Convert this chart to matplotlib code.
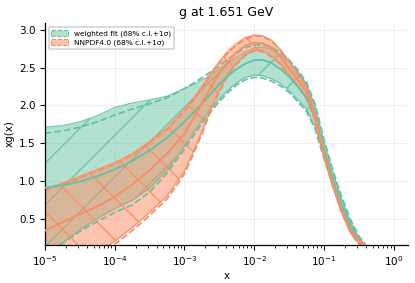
import matplotlib
matplotlib.use("Agg")
import matplotlib.pyplot as plt
import matplotlib.patches as mpatches
import matplotlib.colors as mcolors
import numpy as np

# log10(x) grid the curves were read on
logx = [-5, -4.75, -4.5, -4.25, -4, -3.75, -3.5, -3.25, -3, -2.875, -2.75, -2.625,
        -2.5, -2.375, -2.25, -2.125, -2, -1.875, -1.75, -1.625, -1.5, -1.375,
        -1.25, -1.125, -1, -0.875, -0.75, -0.625, -0.5, -0.375, -0.25, 0]

# weighted fit
wf_cv = [0.91, 0.94, 0.99, 1.06, 1.15, 1.26, 1.40, 1.57, 1.78, 1.90, 2.02, 2.15,
         2.28, 2.39, 2.48, 2.55, 2.60, 2.60, 2.56, 2.48, 2.38, 2.25,
         2.10, 1.85, 1.42, 1.04, 0.70, 0.42, 0.22, 0.08, 0.0, 0.0]
wf_up = [1.71, 1.73, 1.78, 1.86, 1.97, 2.03, 2.07, 2.12, 2.22, 2.27, 2.33, 2.40,
         2.48, 2.56, 2.64, 2.71, 2.76, 2.77, 2.74, 2.67, 2.58, 2.45,
         2.28, 1.98, 1.52, 1.12, 0.77, 0.47, 0.25, 0.10, 0.01, 0.0]
wf_dn = [0.05, 0.18, 0.35, 0.50, 0.63, 0.74, 0.90, 1.14, 1.46, 1.63, 1.80, 1.95,
         2.08, 2.20, 2.30, 2.37, 2.40, 2.39, 2.35, 2.29, 2.20, 2.08,
         1.95, 1.72, 1.33, 0.96, 0.63, 0.36, 0.18, 0.05, -0.01, 0.0]
wf_sup = [1.63, 1.66, 1.71, 1.78, 1.87, 1.95, 2.02, 2.10, 2.22, 2.29, 2.36, 2.44,
          2.52, 2.61, 2.69, 2.76, 2.80, 2.80, 2.77, 2.70, 2.60, 2.47,
          2.30, 2.01, 1.55, 1.15, 0.80, 0.50, 0.27, 0.12, 0.02, 0.0]
wf_sdn = [0.00, 0.17, 0.33, 0.46, 0.58, 0.68, 0.85, 1.10, 1.42, 1.59, 1.76, 1.91,
          2.05, 2.17, 2.27, 2.34, 2.37, 2.36, 2.32, 2.26, 2.17, 2.05,
          1.92, 1.68, 1.30, 0.93, 0.60, 0.33, 0.15, 0.03, -0.02, 0.0]

# NNPDF4.0
nn_cv = [0.34, 0.45, 0.56, 0.66, 0.79, 0.95, 1.14, 1.36, 1.62, 1.82, 2.02, 2.23,
         2.42, 2.58, 2.70, 2.79, 2.83, 2.82, 2.76, 2.65, 2.49, 2.34,
         2.18, 1.85, 1.38, 0.99, 0.63, 0.36, 0.21, 0.12, 0.05, 0.0]
nn_up = [0.89, 0.97, 1.06, 1.15, 1.24, 1.36, 1.52, 1.70, 1.94, 2.08, 2.25, 2.42,
         2.58, 2.72, 2.82, 2.90, 2.93, 2.92, 2.86, 2.74, 2.58, 2.42,
         2.25, 1.90, 1.42, 1.03, 0.66, 0.39, 0.23, 0.14, 0.06, 0.0]
nn_dn = [-0.60, -0.40, -0.20, 0.05, 0.20, 0.38, 0.58, 0.80, 1.13, 1.38, 1.65, 1.95,
         2.20, 2.42, 2.56, 2.67, 2.73, 2.72, 2.65, 2.55, 2.40, 2.26,
         2.10, 1.80, 1.34, 0.95, 0.60, 0.33, 0.19, 0.10, 0.04, 0.0]
nn_sup = [0.87, 0.95, 1.04, 1.13, 1.22, 1.34, 1.50, 1.68, 1.92, 2.06, 2.22, 2.40,
          2.56, 2.70, 2.80, 2.88, 2.92, 2.91, 2.85, 2.73, 2.57, 2.41,
          2.24, 1.89, 1.41, 1.02, 0.65, 0.38, 0.22, 0.13, 0.05, 0.0]
nn_sdn = [-0.70, -0.50, -0.28, 0.00, 0.16, 0.34, 0.54, 0.76, 1.09, 1.35, 1.62, 1.92,
          2.17, 2.40, 2.54, 2.66, 2.72, 2.71, 2.64, 2.54, 2.39, 2.25,
          2.09, 1.79, 1.33, 0.94, 0.59, 0.32, 0.18, 0.09, 0.03, 0.0]

labels = ["weighted fit (68% c.l.+1σ)", "NNPDF4.0 (68% c.l.+1σ)"]
colors = ["#66c2a5", "#fc8d62"]
hatches = ["/", "\\"]

DPI = 125
S = 100 / DPI  # keep sizes as if drawn at 100 dpi
plt.rcParams['hatch.linewidth'] = 1.0 * S
fig = plt.figure(figsize=(415 / DPI, 283 / DPI), dpi=DPI)
ax = fig.add_axes([0.108, 0.134, 0.875, 0.785])

x = 10 ** np.array(logx)
sets = [(wf_cv, wf_up, wf_dn, wf_sup, wf_sdn), (nn_cv, nn_up, nn_dn, nn_sup, nn_sdn)]
handles = []
for (cv, up, dn, sup, sdn), color, hatch in zip(sets, colors, hatches):
    ax.plot(x, cv, color=color, lw=1.4 * S, zorder=3)
    ax.fill_between(x, up, dn, color=color, alpha=0.5, lw=0, zorder=1)
    ax.fill_between(x, up, dn, facecolor='none', edgecolor=mcolors.to_rgba(color, 0.9),
                    hatch=hatch, lw=0.9 * S, zorder=1)
    ax.plot(x, sup, color=color, ls='--', lw=1.3 * S, zorder=2)
    ax.plot(x, sdn, color=color, ls='--', lw=1.3 * S, zorder=2)
    handles.append(mpatches.Patch(facecolor=mcolors.to_rgba(color, 0.5),
                                  edgecolor=color, hatch=hatch, ls='--', lw=0.8 * S))

ax.set_xscale('log')
ax.set_xlim(1e-5, 1.6)
ax.set_ylim(0.15, 3.09)
ax.set_yticks([0.5, 1.0, 1.5, 2.0, 2.5, 3.0])
ax.grid(True, color='#ebebeb', lw=0.6 * S)
ax.set_axisbelow(True)
for s in ['top', 'right']:
    ax.spines[s].set_visible(False)
for s in ['left', 'bottom']:
    ax.spines[s].set_linewidth(0.9 * S)
ax.tick_params(axis='both', which='major', labelsize=7.5 * S, length=3.5 * S, width=0.8 * S,
               pad=3 * S)
ax.tick_params(axis='x', which='minor', length=2 * S, width=0.6 * S)
ax.set_xlabel('x', fontsize=7.5 * S, labelpad=2 * S)
ax.set_ylabel('xg(x)', fontsize=7.5 * S, labelpad=3 * S)
ax.set_title('g at 1.651 GeV', fontsize=9 * S, pad=5 * S)
ax.legend(handles, labels, loc='upper left', fontsize=5.3 * S, handlelength=2.2,
          handleheight=0.9, borderpad=0.4, labelspacing=0.35, framealpha=0.8,
          borderaxespad=0.5)

fig.savefig('out.png', dpi=DPI)
